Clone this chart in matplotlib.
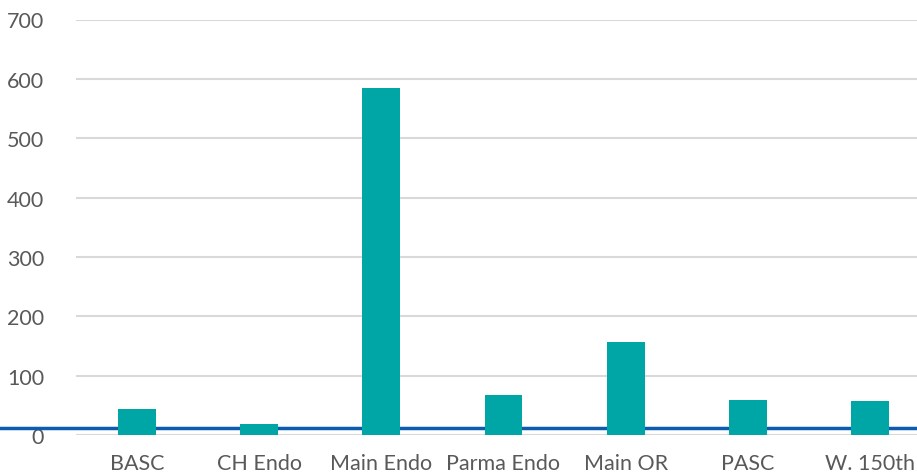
import matplotlib.pyplot as plt
import matplotlib.transforms as mtransforms

sites = ['BASC', 'CH Endo', 'Main Endo', 'Parma Endo', 'Main OR', 'PASC', 'W. 150th']
counts = [43, 19, 584, 68, 156, 59, 57]
target = 11
y_ticks = [0, 100, 200, 300, 400, 500, 600, 700]

bar_color = '#00A6A6'
line_color = '#0B5CAD'
text_color = '#595959'
grid_color = '#D9D9D9'

plt.rcParams['font.family'] = ['Lato', 'DejaVu Sans']

fig = plt.figure(figsize=(9.17, 4.77), dpi=100)
W, H = 917, 477
# axes spans a bit past the right edge, the last slot is cut off
ax = fig.add_axes([76 / W, (H - 436) / H, (931 - 76) / W, (436 - 20.5) / H])

x = range(len(sites))
ax.bar(x, counts, width=0.31, color=bar_color, zorder=3)

ax.set_xlim(-0.5, len(sites) - 0.5)
ax.set_ylim(0, 700)
ax.set_yticks(y_ticks)
ax.set_xticks(list(x))
ax.set_xticklabels(sites)

for y in y_ticks:
    ax.axhline(y, color=grid_color, lw=1.5, zorder=1)

for s in ax.spines.values():
    s.set_visible(False)
ax.tick_params(length=0, labelsize=15.5, colors=text_color)
ax.tick_params(axis='y', pad=23)
ax.tick_params(axis='x', pad=13)

# target line runs across the whole figure width, behind the bars
trans = mtransforms.blended_transform_factory(fig.transFigure, ax.transData)
ax.plot([0, 1], [target, target], color=line_color, lw=2.5,
        transform=trans, clip_on=False, zorder=2)

fig.savefig('out.png', dpi=100)
